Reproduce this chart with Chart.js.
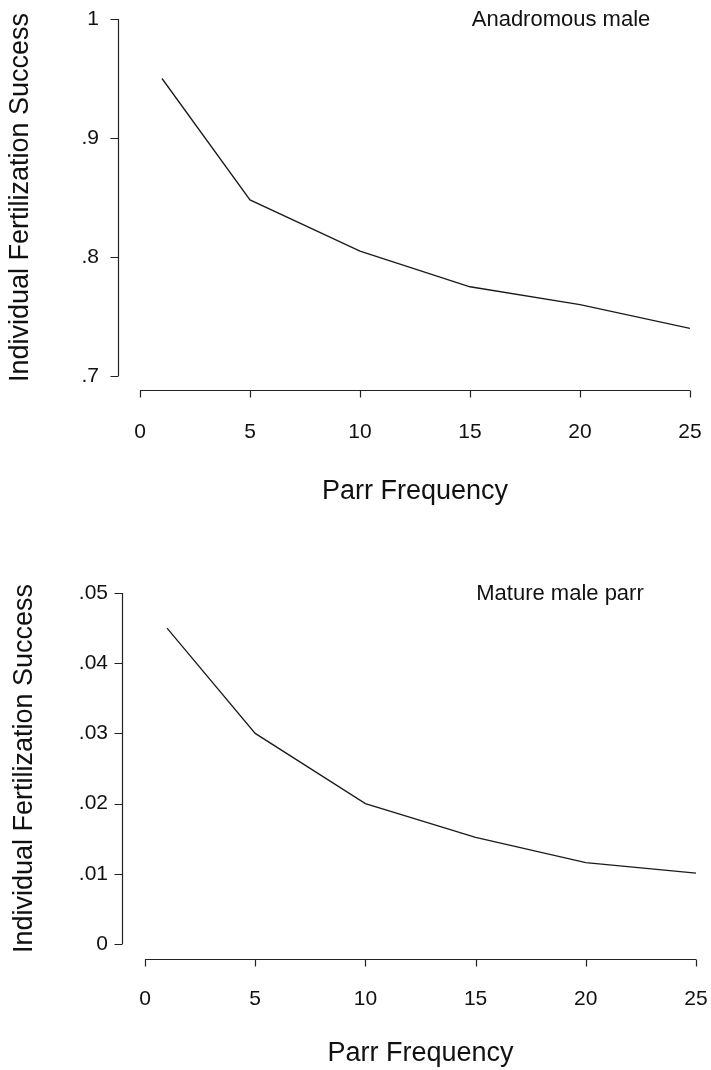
<!DOCTYPE html>
<html>
<head>
<meta charset="utf-8">
<script src="https://cdn.jsdelivr.net/npm/chart.js@4.4.1/dist/chart.umd.min.js"></script>
<style>
  html, body { margin: 0; padding: 0; background: #fff; }
  #wrap { position: relative; width: 711px; height: 1070px; background: #fff; }
  canvas { position: absolute; left: 0; }
  #c1 { top: 0; }
  #c2 { top: 535px; }
</style>
</head>
<body>
<div id="wrap">
  <canvas id="c1" width="711" height="535"></canvas>
  <canvas id="c2" width="711" height="535"></canvas>
</div>
<script>
// ---- data ----
const parrFrequency = [1, 5, 10, 15, 20, 25];
const anadromousSuccess = [0.950, 0.848, 0.805, 0.775, 0.760, 0.740];
const parrSuccess = [0.045, 0.030, 0.020, 0.0152, 0.0116, 0.0101];

const xTicks = [0, 5, 10, 15, 20, 25];
const xTickLabels = ['0', '5', '10', '15', '20', '25'];
const yTicksTop = [0.7, 0.8, 0.9, 1.0];
const yTickLabelsTop = ['.7', '.8', '.9', '1'];
const yTicksBottom = [0, 0.01, 0.02, 0.03, 0.04, 0.05];
const yTickLabelsBottom = ['0', '.01', '.02', '.03', '.04', '.05'];

const xTitle = 'Parr Frequency';
const yTitle = 'Individual Fertilization Success';
const labelTop = 'Anadromous male';
const labelBottom = 'Mature male parr';

const FONT = '"Liberation Sans", Arial, Helvetica, sans-serif';
const INK = '#111';

const detachedAxes = {
  id: 'detachedAxes',
  afterDraw(chart, args, o) {
    const { ctx, chartArea: a } = chart;
    const x = chart.scales.x, y = chart.scales.y;
    ctx.save();
    ctx.strokeStyle = '#222';
    ctx.lineWidth = 1.2;
    ctx.beginPath();
    const yx = Math.round(a.left - o.yOffset) + 0.5;
    ctx.moveTo(yx, y.getPixelForValue(y.max));
    ctx.lineTo(yx, y.getPixelForValue(y.min));
    y.ticks.forEach(t => {
      const p = Math.round(y.getPixelForValue(t.value)) + 0.5;
      ctx.moveTo(yx, p);
      ctx.lineTo(yx - o.tick, p);
    });
    const xy = Math.round(a.bottom + o.xOffset) + 0.5;
    ctx.moveTo(x.getPixelForValue(x.min), xy);
    ctx.lineTo(x.getPixelForValue(x.max), xy);
    x.ticks.forEach(t => {
      const p = Math.round(x.getPixelForValue(t.value)) + 0.5;
      ctx.moveTo(p, xy);
      ctx.lineTo(p, xy + o.tick - 1);
    });
    ctx.stroke();
    // panel label
    ctx.fillStyle = INK;
    ctx.font = '22px ' + FONT;
    ctx.textAlign = 'center';
    ctx.textBaseline = 'middle';
    ctx.fillText(o.label, o.labelX, o.labelY);
    ctx.restore();
  }
};

function makeChart(id, values, yMin, yMax, yTicks, yLabels, geom) {
  return new Chart(document.getElementById(id), {
    type: 'line',
    data: {
      datasets: [{
        data: parrFrequency.map((f, i) => ({ x: f, y: values[i] })),
        borderColor: '#1a1a1a',
        borderWidth: 1.3,
        pointRadius: 0,
        tension: 0,
        fill: false
      }]
    },
    options: {
      responsive: false,
      animation: false,
      devicePixelRatio: 1,
      layout: { padding: geom.padding, autoPadding: false },
      plugins: {
        legend: { display: false },
        tooltip: { enabled: false },
        detachedAxes: geom.axes
      },
      scales: {
        x: {
          type: 'linear',
          min: 0, max: 25,
          afterBuildTicks: s => { s.ticks = xTicks.map(v => ({ value: v })); },
          afterFit: s => { s.height = geom.xHeight; s.paddingLeft = 0; s.paddingRight = 0; },
          grid: { display: false, drawTicks: false },
          border: { display: false },
          ticks: {
            padding: geom.xPad,
            color: INK,
            font: { family: FONT, size: 21 },
            maxRotation: 0,
            autoSkip: false,
            callback: (v, i) => xTickLabels[i]
          },
          title: {
            display: true, text: xTitle, color: INK,
            font: { family: FONT, size: 27 },
            padding: { top: 0, bottom: 0 }
          }
        },
        y: {
          type: 'linear',
          min: yMin, max: yMax,
          afterBuildTicks: s => { s.ticks = yTicks.map(v => ({ value: v })); },
          afterFit: s => { s.width = geom.yWidth; s.paddingTop = 0; s.paddingBottom = 0; },
          grid: { display: false, drawTicks: false },
          border: { display: false },
          ticks: {
            padding: geom.yPad,
            color: INK,
            font: { family: FONT, size: 21 },
            autoSkip: false,
            callback: (v, i) => yLabels[i]
          },
          title: {
            display: true, text: yTitle, color: INK,
            font: { family: FONT, size: 27 },
            padding: { top: geom.yTitlePad, bottom: 0 }
          }
        }
      }
    },
    plugins: [detachedAxes]
  });
}

makeChart('c1', anadromousSuccess, 0.7, 1.0, yTicksTop, yTickLabelsTop, {
  padding: { top: 19, right: 21, bottom: 27, left: 0 },
  xHeight: 132, yWidth: 140, xPad: 44, yPad: 41, yTitlePad: 4,
  axes: { yOffset: 22, xOffset: 14, tick: 8, label: labelTop, labelX: 561, labelY: 20 }
});

makeChart('c2', parrSuccess, 0, 0.05, yTicksBottom, yTickLabelsBottom, {
  padding: { top: 58, right: 15, bottom: 0, left: 0 },
  xHeight: 126, yWidth: 145, xPad: 43, yPad: 37, yTitlePad: 8,
  axes: { yOffset: 23, xOffset: 15, tick: 8, label: labelBottom, labelX: 560, labelY: 59 }
});
</script>
</body>
</html>
